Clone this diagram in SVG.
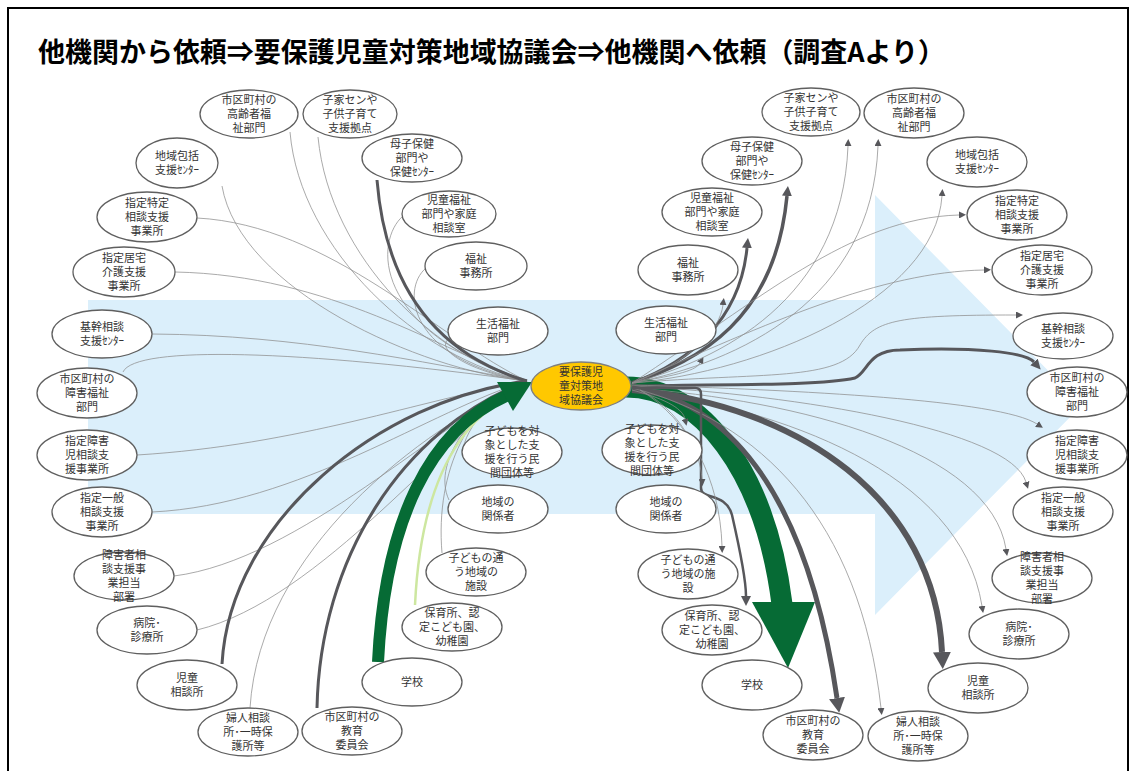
<svg xmlns="http://www.w3.org/2000/svg" width="1134" height="771" viewBox="0 0 1134 771">
<style>
.bg{fill:#dbeffb}
.nd ellipse{fill:#fff;stroke:#5f5f5f;stroke-width:1.3}
.nd text{font-family:"Noto Sans CJK JP","Noto Sans",sans-serif;font-size:11px;fill:#333;text-anchor:middle}
.ctr ellipse{fill:#ffc800;stroke:#7f7f7f;stroke-width:1.3}
.thin{fill:none;stroke:#8e8e8e;stroke-width:0.75}
.dk{fill:none;stroke:#57575b}
.title{font-family:"Noto Sans CJK JP",sans-serif;font-weight:bold;font-size:27px;fill:#000}
</style>
<defs>
<marker id="ms" viewBox="0 0 10 10" refX="0" refY="5" markerWidth="7" markerHeight="7" markerUnits="userSpaceOnUse" orient="auto"><path d="M0,0L10,5L0,10z" fill="#57575b"/></marker>
<marker id="mm" viewBox="0 0 10 10" refX="0" refY="5" markerWidth="10" markerHeight="10" markerUnits="userSpaceOnUse" orient="auto"><path d="M0,0L10,5L0,10z" fill="#57575b"/></marker>
<marker id="ml" viewBox="0 0 10 10" refX="0" refY="5" markerWidth="17" markerHeight="18" markerUnits="userSpaceOnUse" orient="auto" preserveAspectRatio="none"><path d="M0,0L10,5L0,10z" fill="#57575b"/></marker>
<marker id="mx" viewBox="0 0 10 10" refX="0" refY="5" markerWidth="15" markerHeight="16" markerUnits="userSpaceOnUse" orient="auto" preserveAspectRatio="none"><path d="M0,0L10,5L0,10z" fill="#57575b"/></marker>
</defs>
<rect x="0" y="0" width="1134" height="771" fill="#fff"/>
<rect x="8" y="8" width="1120" height="790" fill="none" stroke="#000" stroke-width="2"/>
<text class="title" x="38" y="62" textLength="907" lengthAdjust="spacingAndGlyphs">他機関から依頼⇒要保護児童対策地域協議会⇒他機関へ依頼（調査Aより）</text>
<g id="bigarrow"><path class="bg" d="M88,300H875V195L1082,405L875,615V514H88z"/></g>
<g id="connectors">
<path class="thin" d="M290,132C300,250 420,360 527,381"/>
<path class="thin" d="M318,137C330,260 440,360 527,381"/>
<path class="thin" d="M222,186C240,290 420,370 527,381"/>
<path class="thin" d="M197,218C330,225 440,340 527,381"/>
<path class="thin" d="M175,272C330,275 440,350 527,381"/>
<path class="thin" d="M152,334C300,335 420,362 527,381"/>
<path class="thin" d="M123,372C135,345 300,350 527,381"/>
<path class="thin" d="M137,455C300,445 420,400 527,381"/>
<path class="thin" d="M152,512C300,505 430,410 527,381"/>
<path class="thin" d="M174,576C300,560 440,420 527,381"/>
<path class="thin" d="M197,630C320,600 450,430 527,381"/>
<path class="thin" d="M250,708C260,550 420,430 527,381"/>
<path class="thin" d="M450,338C430,350 480,375 527,381"/>
<path class="thin" d="M403,216C375,240 370,330 527,381"/>
<path class="thin" d="M426,268C400,290 410,360 527,381"/>
<path class="thin" d="M463,448C470,420 500,390 527,381"/>
<path class="thin" d="M449,500C430,460 480,400 527,381"/>
<path class="thin" d="M442,553C435,470 470,400 527,381"/>
<path class="dk" stroke-width="3" d="M377,180C385,280 430,352 527,381"/>
<path class="dk" stroke-width="3" d="M222,664C230,520 380,400 527,381"/>
<path class="dk" stroke-width="3" d="M317,708C320,560 400,430 527,381"/>
<path fill="none" stroke="#cde7a0" stroke-width="2.5" d="M415,605C420,500 450,430 506,398"/>
<path fill="none" stroke="#066b35" stroke-width="12" d="M378,662C385,520 430,430 506,396"/>
<polygon fill="#066b35" points="532,382 513,411 497,382"/>
<path fill="none" stroke="#066b35" stroke-width="21" d="M626,387C700,387 765,470 782,604"/>
<polygon fill="#066b35" points="752,602 815,602 788,668"/>
<path class="dk" stroke-width="3.5" marker-end="url(#mm)" d="M632,383C700,360 775,320 787,196"/>
<path class="dk" stroke-width="3" marker-end="url(#mm)" d="M632,383C690,362 740,320 747,248"/>
<path class="thin" marker-end="url(#ms)" d="M632,383C690,362 720,330 723,305"/>
<path class="thin" marker-end="url(#ms)" d="M632,383C670,376 695,372 700,363"/>
<path class="thin" marker-end="url(#ms)" d="M632,383C720,360 842,300 848,146"/>
<path class="thin" marker-end="url(#ms)" d="M632,383C740,362 872,300 878,146"/>
<path class="thin" marker-end="url(#ms)" d="M632,383C760,372 935,300 942,196"/>
<path class="thin" marker-end="url(#ms)" d="M632,383C760,300 850,218 959,215"/>
<path class="thin" marker-end="url(#ms)" d="M632,383C770,322 880,272 984,270"/>
<path class="thin" marker-end="url(#ms)" d="M632,383C760,372 840,382 860,345C875,320 900,315 1016,315"/>
<path class="dk" stroke-width="3" marker-end="url(#mm)" d="M632,386C720,384 820,386 855,378C868,372 868,350 900,350C975,347 1025,352 1034,362"/>
<path class="thin" marker-end="url(#ms)" d="M632,385C800,390 1000,400 1037,424"/>
<path class="thin" marker-end="url(#ms)" d="M632,386C800,395 1010,430 1026,482"/>
<path class="thin" marker-end="url(#ms)" d="M632,388C800,400 990,450 1006,549"/>
<path class="thin" marker-end="url(#ms)" d="M632,388C780,410 960,470 982,606"/>
<path class="dk" stroke-width="6" marker-end="url(#ml)" d="M632,390C800,405 935,500 942,652"/>
<path class="dk" stroke-width="5" marker-end="url(#mx)" d="M632,388C720,400 805,480 837,698"/>
<path class="thin" marker-end="url(#ms)" d="M632,388C760,420 860,520 881,708"/>
<path class="dk" stroke-width="2.5" marker-end="url(#mm)" d="M632,388H695Q701,388 701,394V488C701,500 726,492 732,515C740,550 746,580 746,596"/>
<path class="thin" marker-end="url(#ms)" d="M632,390C670,400 683,410 685,419"/>
<path class="thin" marker-end="url(#ms)" d="M640,390C680,410 700,450 702,479"/>
<path class="thin" marker-end="url(#ms)" d="M640,390C690,420 720,480 722,546"/>
</g>
<g id="L1" class="nd"><ellipse cx="249" cy="114" rx="49" ry="24"/><text x="249" y="104">市区町村の</text><text x="249" y="118">高齢者福</text><text x="249" y="132">祉部門</text></g>
<g id="L2" class="nd"><ellipse cx="350" cy="114" rx="47" ry="24"/><text x="350" y="104">子家センや</text><text x="350" y="118">子供子育て</text><text x="350" y="132">支援拠点</text></g>
<g id="L3" class="nd"><ellipse cx="177" cy="163" rx="41" ry="25"/><text x="177" y="160">地域包括</text><text x="177" y="174">支援ｾﾝﾀｰ</text></g>
<g id="L4" class="nd"><ellipse cx="412" cy="158" rx="50" ry="24"/><text x="412" y="148">母子保健</text><text x="412" y="162">部門や</text><text x="412" y="176">保健ｾﾝﾀｰ</text></g>
<g id="L5" class="nd"><ellipse cx="147" cy="217" rx="50" ry="25"/><text x="147" y="207">指定特定</text><text x="147" y="221">相談支援</text><text x="147" y="235">事業所</text></g>
<g id="L6" class="nd"><ellipse cx="449" cy="214" rx="47" ry="23"/><text x="449" y="204">児童福祉</text><text x="449" y="218">部門や家庭</text><text x="449" y="232">相談室</text></g>
<g id="L7" class="nd"><ellipse cx="124" cy="272" rx="51" ry="25"/><text x="124" y="262">指定居宅</text><text x="124" y="276">介護支援</text><text x="124" y="290">事業所</text></g>
<g id="L8" class="nd"><ellipse cx="476" cy="266" rx="51" ry="24"/><text x="476" y="263">福祉</text><text x="476" y="277">事務所</text></g>
<g id="L9" class="nd"><ellipse cx="498" cy="331" rx="50" ry="24"/><text x="498" y="328">生活福祉</text><text x="498" y="342">部門</text></g>
<g id="L10" class="nd"><ellipse cx="102" cy="334" rx="50" ry="24"/><text x="102" y="331">基幹相談</text><text x="102" y="345">支援ｾﾝﾀｰ</text></g>
<g id="L11" class="nd"><ellipse cx="87" cy="393" rx="50" ry="25"/><text x="87" y="383">市区町村の</text><text x="87" y="397">障害福祉</text><text x="87" y="411">部門</text></g>
<g id="L12" class="nd"><ellipse cx="87" cy="455" rx="50" ry="25"/><text x="87" y="445">指定障害</text><text x="87" y="459">児相談支</text><text x="87" y="473">援事業所</text></g>
<g id="L13" class="nd"><ellipse cx="102" cy="512" rx="50" ry="25"/><text x="102" y="502">指定一般</text><text x="102" y="516">相談支援</text><text x="102" y="530">事業所</text></g>
<g id="L14" class="nd"><ellipse cx="512" cy="452" rx="50" ry="24"/><text x="512" y="435">子どもを対</text><text x="512" y="449">象とした支</text><text x="512" y="463">援を行う民</text><text x="512" y="477">間団体等</text></g>
<g id="L15" class="nd"><ellipse cx="498" cy="509" rx="50" ry="24"/><text x="498" y="506">地域の</text><text x="498" y="520">関係者</text></g>
<g id="L16" class="nd"><ellipse cx="124" cy="576" rx="50" ry="24"/><text x="124" y="559">障害者相</text><text x="124" y="573">談支援事</text><text x="124" y="587">業担当</text><text x="124" y="601">部署</text></g>
<g id="L17" class="nd"><ellipse cx="476" cy="572" rx="50" ry="24"/><text x="476" y="562">子どもの通</text><text x="476" y="576">う地域の</text><text x="476" y="590">施設</text></g>
<g id="L18" class="nd"><ellipse cx="147" cy="630" rx="50" ry="24"/><text x="147" y="627">病院･</text><text x="147" y="641">診療所</text></g>
<g id="L19" class="nd"><ellipse cx="452" cy="627" rx="50" ry="24"/><text x="452" y="617">保育所、認</text><text x="452" y="631">定こども園、</text><text x="452" y="645">幼稚園</text></g>
<g id="L20" class="nd"><ellipse cx="187" cy="685" rx="50" ry="25"/><text x="187" y="682">児童</text><text x="187" y="696">相談所</text></g>
<g id="L21" class="nd"><ellipse cx="412" cy="682" rx="50" ry="24"/><text x="412" y="686">学校</text></g>
<g id="L22" class="nd"><ellipse cx="248" cy="732" rx="50" ry="24"/><text x="248" y="722">婦人相談</text><text x="248" y="736">所･一時保</text><text x="248" y="750">護所等</text></g>
<g id="L23" class="nd"><ellipse cx="352" cy="731" rx="50" ry="24"/><text x="352" y="721">市区町村の</text><text x="352" y="735">教育</text><text x="352" y="749">委員会</text></g>
<g id="C" class="nd ctr"><ellipse cx="581" cy="386" rx="50" ry="24"/><text x="581" y="376">要保護児</text><text x="581" y="390">童対策地</text><text x="581" y="404">域協議会</text></g>
<g id="R1" class="nd"><ellipse cx="811" cy="112" rx="49" ry="24"/><text x="811" y="102">子家センや</text><text x="811" y="116">子供子育て</text><text x="811" y="130">支援拠点</text></g>
<g id="R2" class="nd"><ellipse cx="914" cy="113" rx="50" ry="25"/><text x="914" y="103">市区町村の</text><text x="914" y="117">高齢者福</text><text x="914" y="131">祉部門</text></g>
<g id="R3" class="nd"><ellipse cx="752" cy="161" rx="50" ry="24"/><text x="752" y="151">母子保健</text><text x="752" y="165">部門や</text><text x="752" y="179">保健ｾﾝﾀｰ</text></g>
<g id="R4" class="nd"><ellipse cx="977" cy="162" rx="50" ry="25"/><text x="977" y="159">地域包括</text><text x="977" y="173">支援ｾﾝﾀｰ</text></g>
<g id="R5" class="nd"><ellipse cx="712" cy="212" rx="50" ry="24"/><text x="712" y="202">児童福祉</text><text x="712" y="216">部門や家庭</text><text x="712" y="230">相談室</text></g>
<g id="R6" class="nd"><ellipse cx="1017" cy="215" rx="50" ry="25"/><text x="1017" y="205">指定特定</text><text x="1017" y="219">相談支援</text><text x="1017" y="233">事業所</text></g>
<g id="R7" class="nd"><ellipse cx="688" cy="270" rx="50" ry="25"/><text x="688" y="267">福祉</text><text x="688" y="281">事務所</text></g>
<g id="R8" class="nd"><ellipse cx="1042" cy="270" rx="50" ry="25"/><text x="1042" y="260">指定居宅</text><text x="1042" y="274">介護支援</text><text x="1042" y="288">事業所</text></g>
<g id="R9" class="nd"><ellipse cx="666" cy="330" rx="50" ry="24"/><text x="666" y="327">生活福祉</text><text x="666" y="341">部門</text></g>
<g id="R10" class="nd"><ellipse cx="1063" cy="336" rx="50" ry="23"/><text x="1063" y="333">基幹相談</text><text x="1063" y="347">支援ｾﾝﾀｰ</text></g>
<g id="R11" class="nd"><ellipse cx="1077" cy="392" rx="50" ry="25"/><text x="1077" y="382">市区町村の</text><text x="1077" y="396">障害福祉</text><text x="1077" y="410">部門</text></g>
<g id="R12" class="nd"><ellipse cx="1077" cy="455" rx="50" ry="25"/><text x="1077" y="445">指定障害</text><text x="1077" y="459">児相談支</text><text x="1077" y="473">援事業所</text></g>
<g id="R13" class="nd"><ellipse cx="1063" cy="512" rx="50" ry="25"/><text x="1063" y="502">指定一般</text><text x="1063" y="516">相談支援</text><text x="1063" y="530">事業所</text></g>
<g id="R14" class="nd"><ellipse cx="652" cy="450" rx="50" ry="25"/><text x="652" y="433">子どもを対</text><text x="652" y="447">象とした支</text><text x="652" y="461">援を行う民</text><text x="652" y="475">間団体等</text></g>
<g id="R15" class="nd"><ellipse cx="666" cy="509" rx="50" ry="24"/><text x="666" y="506">地域の</text><text x="666" y="520">関係者</text></g>
<g id="R16" class="nd"><ellipse cx="1042" cy="578" rx="50" ry="25"/><text x="1042" y="561">障害者相</text><text x="1042" y="575">談支援事</text><text x="1042" y="589">業担当</text><text x="1042" y="603">部署</text></g>
<g id="R17" class="nd"><ellipse cx="688" cy="574" rx="50" ry="25"/><text x="688" y="564">子どもの通</text><text x="688" y="578">う地域の施</text><text x="688" y="592">設</text></g>
<g id="R18" class="nd"><ellipse cx="1019" cy="634" rx="50" ry="25"/><text x="1019" y="631">病院･</text><text x="1019" y="645">診療所</text></g>
<g id="R19" class="nd"><ellipse cx="712" cy="630" rx="50" ry="25"/><text x="712" y="620">保育所、認</text><text x="712" y="634">定こども園、</text><text x="712" y="648">幼稚園</text></g>
<g id="R20" class="nd"><ellipse cx="978" cy="688" rx="50" ry="25"/><text x="978" y="685">児童</text><text x="978" y="699">相談所</text></g>
<g id="R21" class="nd"><ellipse cx="752" cy="685" rx="50" ry="25"/><text x="752" y="689">学校</text></g>
<g id="R22" class="nd"><ellipse cx="813" cy="735" rx="50" ry="25"/><text x="813" y="725">市区町村の</text><text x="813" y="739">教育</text><text x="813" y="753">委員会</text></g>
<g id="R23" class="nd"><ellipse cx="918" cy="736" rx="50" ry="25"/><text x="918" y="726">婦人相談</text><text x="918" y="740">所･一時保</text><text x="918" y="754">護所等</text></g>
</svg>
